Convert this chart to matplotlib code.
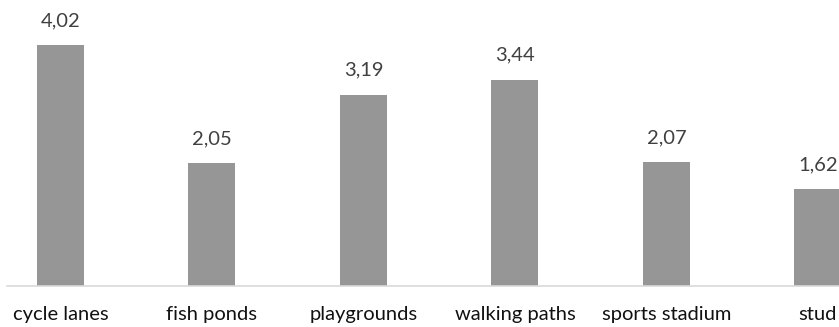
import matplotlib
matplotlib.use("Agg")
import matplotlib.pyplot as plt

categories = ["cycle lanes", "fish ponds", "playgrounds", "walking paths", "sports stadium", "stud"]
values = [4.02, 2.05, 3.19, 3.44, 2.07, 1.62]
value_labels = ["4,02", "2,05", "3,19", "3,44", "2,07", "1,62"]

plt.rcParams['font.family'] = ['Lato', 'DejaVu Sans']

W, H = 839, 327
fig = plt.figure(figsize=(W / 100, H / 100), dpi=100)
ax = fig.add_axes([7 / W, 41 / H, (W - 7) / W, 286 / H])

x = list(range(len(categories)))
ax.bar(x, values, width=0.31, color='#969696', zorder=2)

for xi, v, lab in zip(x, values, value_labels):
    ax.annotate(lab, (xi, v), xytext=(0, 17.5), textcoords='offset points',
                ha='center', va='center', fontsize=14.5, color='#404040')

ax.set_xlim(-0.353, 5.139)
ax.set_ylim(0, 4.767)
ax.set_xticks(x)
ax.set_xticklabels(categories, fontsize=14.5, color='#111111')
ax.tick_params(axis='x', length=0, pad=14.5)
ax.set_yticks([])
for s in ['top', 'right', 'left']:
    ax.spines[s].set_visible(False)
ax.spines['bottom'].set_color('#d9d9d9')
ax.spines['bottom'].set_linewidth(1.2)

fig.savefig('out.png', dpi=100)
